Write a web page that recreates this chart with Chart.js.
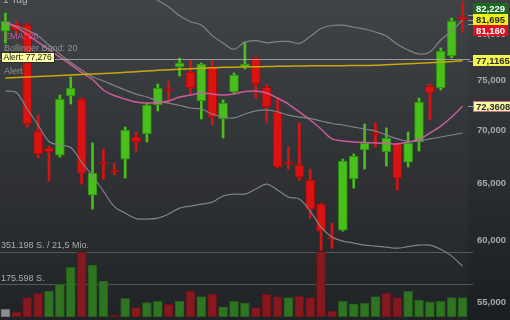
<!DOCTYPE html>
<html lang="de">
<head>
<meta charset="UTF-8">
<title>Kursverlauf 1 Tag</title>
<script src="https://cdn.jsdelivr.net/npm/chart.js"></script>
<style>
  html, body { margin: 0; padding: 0; background: #2b2e31; }
  #wrap { width: 510px; height: 320px; position: relative; }
</style>
</head>
<body>
<div id="wrap"><canvas id="kurs"></canvas></div>
<script>
// Kerzen (43 Handelstage)
const tage = ["1","2","3","4","5","6","7","8","9","10","11","12","13","14","15","16","17","18","19","20","21","22",
  "23","24","25","26","27","28","29","30","31","32","33","34","35","36","37","38","39","40","41","42","43"];
const eroeffnung = [80390,81180,81070,69900,68260,67590,73410,73100,63910,66930,66190,67210,69320,69610,72490,74130,
  76450,75920,72900,76450,71090,73820,76450,77420,74340,71790,66930,66650,65270,63100,60260,60850,65360,68070,69710,
  67880,68650,66930,68840,74440,74240,77630,82000];
const hoch = [82440,81530,81300,71480,68450,73510,75390,73200,68740,68160,66840,70290,69800,72690,74650,74960,
  77420,77200,76880,77200,73000,75810,79170,77530,74650,73200,68360,70690,66280,63190,61450,67210,67690,70590,70690,
  70200,68740,69800,73200,74650,78510,81870,83720];
const tief = [79050,80050,70290,67310,65180,67400,72590,64900,62670,65360,65730,65450,67970,68840,71890,72790,
  75500,73510,71090,70490,69220,73720,76240,73200,70690,66370,66280,65270,61890,59170,59340,60770,64540,66280,68360,
  66560,64360,66470,67970,70990,74030,77420,80280];
const schluss = [81530,80500,70590,67690,67880,73100,74240,65910,65910,66740,66000,70000,68840,72490,74240,73930,
  76870,74240,76770,71280,72690,75600,76770,74650,72290,66470,66740,65540,62670,60770,60090,67030,67500,68740,69510,
  69220,65450,68740,72790,73720,78180,81530,81695];
const volumen = [41000,28000,104000,127000,139000,177000,267000,349000,279000,193000,11000,100000,52000,77000,84000,
  68000,86000,139000,109000,123000,55000,86000,75000,50000,122000,109000,104000,111000,104000,351198,32000,86000,
  70000,73000,109000,127000,104000,138000,91000,82000,86000,104000,104000];

// Indikatoren
const ema20 = [81300,80840,80000,79160,78340,77520,76710,75860,75120,74030,73460,73100,72800,72690,72740,72900,
  73310,73510,73720,73610,73510,73610,73870,73930,73720,73200,72590,71790,70990,70100,69130,68940,68840,68790,68740,
  68700,68650,68840,69080,69710,70390,71280,72361];
const bbMitte = [81410,80960,80500,79830,78830,77850,76930,76130,75420,74970,74500,74030,73610,73310,72900,72690,
  72440,72190,72090,71580,71280,71190,71580,71890,71990,71790,71480,71280,71140,70890,70640,70490,70290,70100,69900,
  69510,69130,68890,68940,69130,69320,69510,69710];
const bbOben = [88890,88150,88910,89170,88770,87150,85550,85330,85200,85670,86110,85740,85380,84820,83920,83140,
  82120,81450,81070,79880,79050,78380,79160,79330,79080,79220,79230,79010,79790,80670,81020,81050,80820,80610,80290,
  79830,78920,78290,77850,78070,79390,80390,81640];
const bbUnten = [73930,73770,72090,70490,68890,68550,68310,66930,65640,64270,62890,62320,61840,61800,61880,62240,
  62760,62930,63110,63280,63820,64000,64000,64450,64900,64360,63730,63550,62490,61110,60260,59930,59760,59590,59510,
  59420,59340,59470,59590,59590,59250,58680,57860];
const sma200 = [75283,75336,75390,75443,75496,75549,75603,75656,75709,75762,75816,75879,75954,76018,76092,76146,
  76210,76252,76305,76359,76412,76433,76455,76476,76497,76518,76540,76561,76572,76577,76582,76593,76604,76609,76625,
  76689,76742,76795,76849,76912,76976,77030,77117];

// Achsen und Markierungen
const preisTicks = [55000, 60000, 65000, 70000, 75000, 80000];
const alertWert = 77276;
const alertText = "Alert: 77,276";
const volLinien = [351198, 175598];
const volTexte = ["351.198 S. / 21,5 Mio.", "175.598 S."];
const markWerte = [82229, 81695, 81160, 77116.5, 72360.8];
const markTexte = ["82,229", "81,695", "81,160", "77,1165", "72,3608"];
const markStil = [
  { bg: "#1c6a1f", fg: "#ffffff" },
  { bg: "#f0f01c", fg: "#2a2a2a" },
  { bg: "#dc1224", fg: "#ffffff" },
  { bg: "#f6f650", fg: "#2a2a2a" },
  { bg: "#fafaa0", fg: "#2a2a2a", rand: "#d0609a" }
];

const SCHRIFT = '"Liberation Sans", Arial, sans-serif';
const gruen = "#48bf1a", gruenRand = "#2e8a12";
const rot = "#d91212", rotRand = "#a30c0c";

const steigt = schluss.map((c, i) => c >= eroeffnung[i]);
const volFarbe = schluss.map((c, i) => i === 0 ? "#8d8d8d" : (c >= schluss[i - 1] ? "#2f7420" : "#861820"));
const volRand = schluss.map((c, i) => i === 0 ? "#6c6c6c" : (c >= schluss[i - 1] ? "#245a19" : "#681218"));

const hintergrund = {
  id: "hintergrund",
  beforeDraw(chart) {
    const { ctx, width, height, chartArea } = chart;
    const g = ctx.createLinearGradient(0, 0, 0, height);
    g.addColorStop(0, "#3d4043");
    g.addColorStop(0.5, "#2c2f32");
    g.addColorStop(1, "#1b1e21");
    ctx.save();
    ctx.fillStyle = g;
    ctx.fillRect(0, 0, width, height);
    ctx.fillStyle = "rgba(255,255,255,0.025)";
    ctx.fillRect(chartArea.left, 0, chartArea.right - chartArea.left, height);
    // Volumen-Hilfslinien
    const yv = chart.scales.yv;
    ctx.strokeStyle = "rgba(105,109,113,0.7)";
    ctx.lineWidth = 1;
    volLinien.forEach(v => {
      const y = Math.round(yv.getPixelForValue(v)) + 0.5;
      ctx.beginPath();
      ctx.moveTo(0, y);
      ctx.lineTo(chartArea.right + 5, y);
      ctx.stroke();
    });
    ctx.restore();
  },
  afterDatasetsDraw(chart) {
    const { ctx, chartArea } = chart;
    const y = Math.round(chart.scales.y.getPixelForValue(alertWert)) + 0.5;
    ctx.save();
    ctx.strokeStyle = "rgba(175,178,181,0.8)";
    ctx.lineWidth = 1;
    ctx.beginPath();
    ctx.moveTo(0, y);
    ctx.lineTo(chartArea.right + 2, y);
    ctx.stroke();
    ctx.restore();
  },
  afterDraw(chart) {
    const { ctx, chartArea } = chart;
    const ys = chart.scales.y, yv = chart.scales.yv;
    ctx.save();
    ctx.textBaseline = "middle";
    ctx.textAlign = "left";

    // Legende links
    ctx.fillStyle = "#aeb1b4";
    ctx.font = "10px " + SCHRIFT;
    ctx.fillText("1 Tag", 3, 0);
    ctx.font = "9px " + SCHRIFT;
    ctx.fillStyle = "#c8589a";
    ctx.fillText("EMA: 20", 4, 37);
    ctx.fillStyle = "#8e9195";
    ctx.fillText("Bollinger Band: 20", 4, 49);
    ctx.fillStyle = "#a88f10";
    ctx.fillText("SMA: 200", 4, 61);
    ctx.font = "8.5px " + SCHRIFT;
    const bw = Math.ceil(ctx.measureText(alertText).width) + 5;
    ctx.fillStyle = "#ffffa6";
    ctx.fillRect(1, 52, bw, 11);
    ctx.strokeStyle = "#2a2a2a";
    ctx.strokeRect(1.5, 52.5, bw - 1, 10);
    ctx.fillStyle = "#111";
    ctx.fillText(alertText, 3.5, 58);
    ctx.font = "9px " + SCHRIFT;
    ctx.fillStyle = "#8e9195";
    ctx.fillText("Alert", 4, 72);

    // Volumen-Beschriftung
    ctx.fillStyle = "#a9acaf";
    volLinien.forEach((v, i) => {
      ctx.fillText(volTexte[i], 1, yv.getPixelForValue(v) - 6);
    });

    // Kursmarken rechts
    ctx.font = "bold 9.5px " + SCHRIFT;
    const h = 11;
    const marken = markWerte.map((v, i) => ({ i, y0: ys.getPixelForValue(v), y: ys.getPixelForValue(v) }));
    marken.sort((a, b) => a.y0 - b.y0);
    // ueberlappende Marken gruppieren und um ihren Mittelwert stapeln
    let gruppen = [], akt = [marken[0]];
    for (let k = 1; k < marken.length; k++) {
      if (marken[k].y0 - akt[akt.length - 1].y0 < h) akt.push(marken[k]);
      else { gruppen.push(akt); akt = [marken[k]]; }
    }
    gruppen.push(akt);
    gruppen.forEach(gr => {
      const mitte = gr.reduce((s, m) => s + m.y0, 0) / gr.length;
      gr.forEach((m, k) => { m.y = mitte + (k - (gr.length - 1) / 2) * h; });
    });
    const x0 = chartArea.right + 5;
    marken.forEach(m => {
      const st = markStil[m.i];
      const w = ctx.measureText(markTexte[m.i]).width + 6;
      ctx.strokeStyle = "rgba(170,173,176,0.8)";
      ctx.lineWidth = 1;
      ctx.beginPath();
      ctx.moveTo(chartArea.right, Math.round(m.y0) + 0.5);
      ctx.lineTo(x0, Math.round(m.y0) + 0.5);
      ctx.stroke();
      const top = Math.round(m.y - h / 2);
      ctx.fillStyle = st.bg;
      ctx.fillRect(x0, top, w, h);
      if (st.rand) {
        ctx.strokeStyle = st.rand;
        ctx.strokeRect(x0 + 0.5, top + 0.5, w - 1, h - 1);
      }
      ctx.fillStyle = st.fg;
      ctx.fillText(markTexte[m.i], x0 + 3, top + h / 2 + 0.5);
    });
    ctx.restore();
  }
};

new Chart(document.getElementById("kurs"), {
  type: "bar",
  data: {
    labels: tage,
    datasets: [
      {
        label: "SMA 200",
        type: "line",
        data: sma200,
        borderColor: "#c9a80c",
        borderWidth: 1.5,
        pointRadius: 0,
        tension: 0.3,
        yAxisID: "y",
        order: 1
      },
      {
        label: "EMA 20",
        type: "line",
        data: ema20,
        borderColor: "#cc5b9b",
        borderWidth: 1.5,
        pointRadius: 0,
        tension: 0.35,
        yAxisID: "y",
        order: 1
      },
      {
        label: "BB oben",
        type: "line",
        data: bbOben,
        borderColor: "#7f8387",
        borderWidth: 1.2,
        pointRadius: 0,
        tension: 0.35,
        yAxisID: "y",
        order: 2
      },
      {
        label: "BB Mitte",
        type: "line",
        data: bbMitte,
        borderColor: "#7f8387",
        borderWidth: 1.2,
        pointRadius: 0,
        tension: 0.35,
        yAxisID: "y",
        order: 2
      },
      {
        label: "BB unten",
        type: "line",
        data: bbUnten,
        borderColor: "#7f8387",
        borderWidth: 1.2,
        pointRadius: 0,
        tension: 0.35,
        yAxisID: "y",
        order: 2
      },
      {
        label: "Kerze",
        data: eroeffnung.map((o, i) => [o, schluss[i]]),
        backgroundColor: steigt.map(s => s ? gruen : rot),
        borderColor: steigt.map(s => s ? gruenRand : rotRand),
        borderWidth: 1,
        borderSkipped: false,
        barThickness: 9,
        grouped: false,
        yAxisID: "y",
        order: 3
      },
      {
        label: "Docht",
        data: tief.map((l, i) => [l, hoch[i]]),
        backgroundColor: steigt.map(s => s ? gruen : rot),
        borderWidth: 0,
        barThickness: 2,
        grouped: false,
        yAxisID: "y",
        order: 4
      },
      {
        label: "Volumen",
        data: volumen,
        backgroundColor: volFarbe,
        borderColor: volRand,
        borderWidth: 1,
        borderSkipped: false,
        barThickness: 9,
        grouped: false,
        yAxisID: "yv",
        order: 5
      }
    ]
  },
  options: {
    responsive: true,
    maintainAspectRatio: false,
    animation: false,
    layout: { padding: { top: 0, left: 0, right: 4, bottom: 3 } },
    plugins: { legend: { display: false }, tooltip: { enabled: false } },
    scales: {
      x: { type: "category", offset: true, display: false, grid: { display: false } },
      y: {
        type: "logarithmic",
        position: "right",
        min: 53890,
        max: 83960,
        grid: { display: false },
        border: { display: false },
        afterBuildTicks: s => { s.ticks = preisTicks.map(v => ({ value: v })); },
        afterFit: s => { s.width = 38; s.paddingTop = 0; s.paddingBottom = 0; },
        ticks: {
          color: "#a6a9ac",
          crossAlign: "far",
          padding: 0,
          autoSkip: false,
          font: { family: SCHRIFT, size: 9.5, weight: "bold" },
          callback: v => Number(v).toLocaleString("en-US")
        }
      },
      yv: { type: "linear", display: false, min: 0, max: 1700000 }
    }
  },
  plugins: [hintergrund]
});
</script>
</body>
</html>
